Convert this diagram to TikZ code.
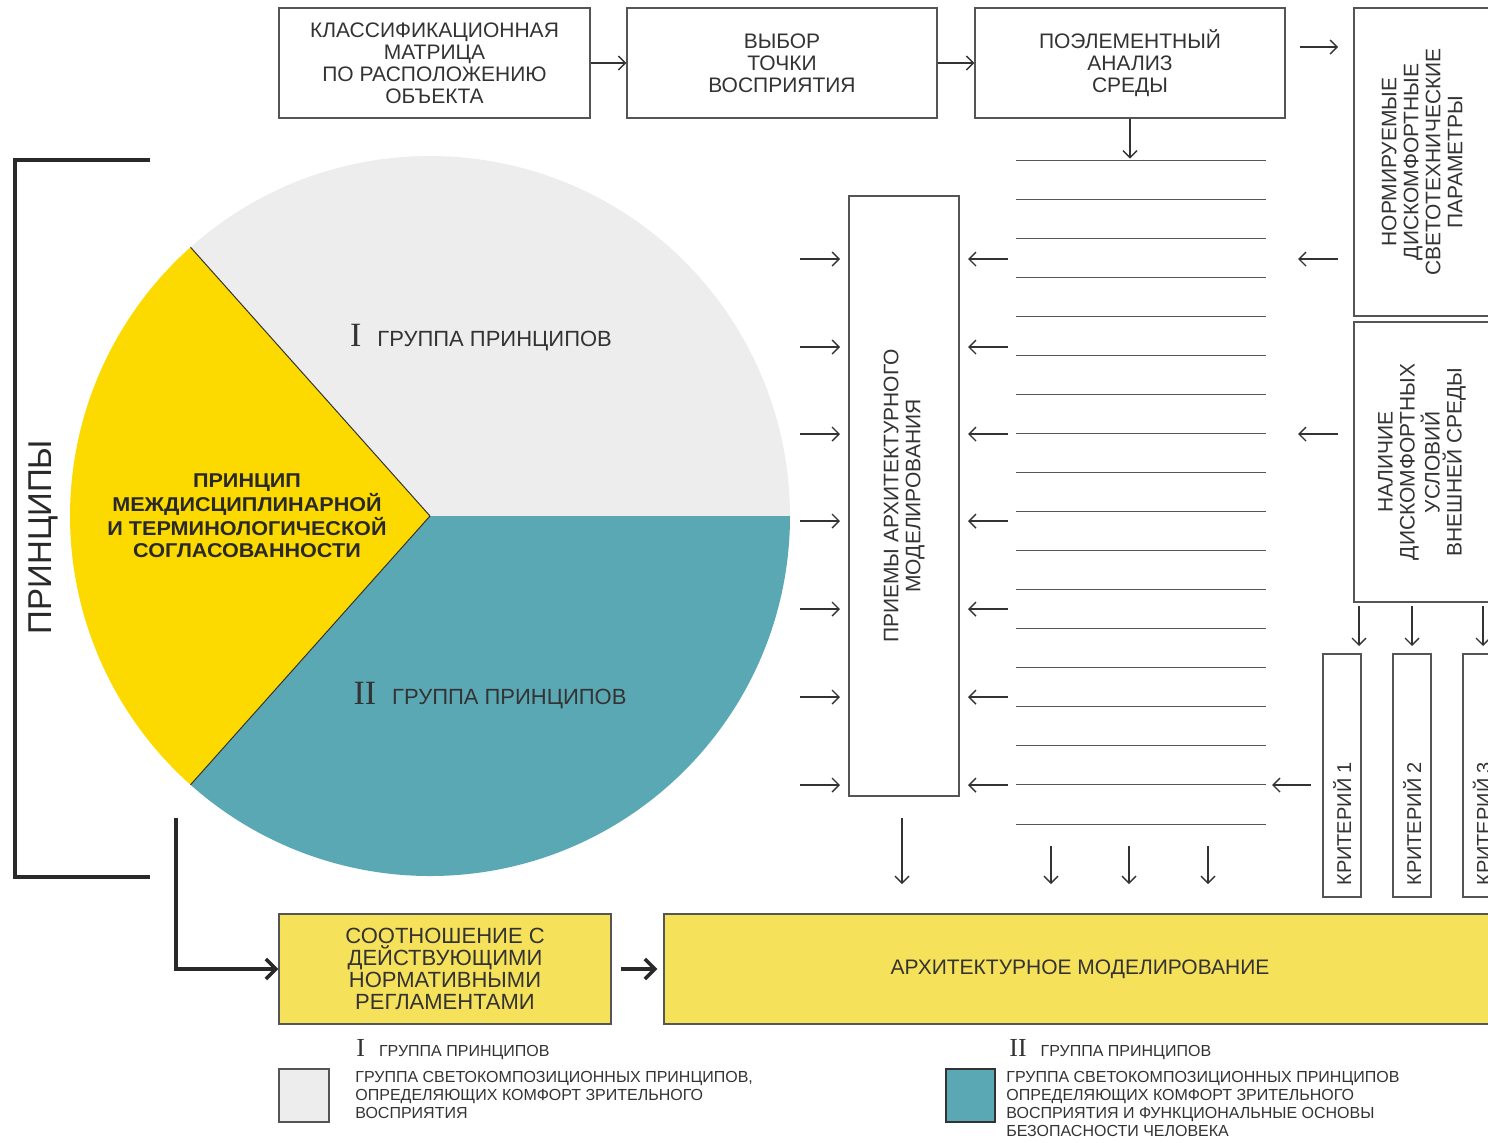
\documentclass[tikz,border=0pt]{standalone}
\usepackage{fontspec}
\setmainfont{Liberation Sans}
\newfontfamily\romfont{Liberation Serif}
\newfontfamily\widefont[FakeStretch=1.08]{Liberation Sans}
\usetikzlibrary{positioning, arrows.meta}
\definecolor{ink}{HTML}{333333}
\definecolor{frame}{HTML}{555555}
\definecolor{pigrey}{HTML}{EDEDED}
\definecolor{piyellow}{HTML}{FCDA00}
\definecolor{piteal}{HTML}{5BA8B5}
\definecolor{boxyellow}{HTML}{F6E15A}

\begin{document}
\begin{tikzpicture}[x=0.5pt, y=-0.5pt,
    box/.style={draw=frame, line width=0.6pt, text=ink, align=center, inner sep=0pt,
                font=\fontsize{10.5}{11}\selectfont},
    arr/.style={-{Straight Barb[length=3.5pt, width=7pt]}, line width=0.7pt, ink},
    bigarr/.style={-{Straight Barb[length=5pt, width=10pt]}, line width=1.8pt, ink!80!black},
    stripe/.style={line width=0.5pt, frame}]
  \useasboundingbox (0,0) rectangle (1488,1142);
  % ---- top row: classification -> viewpoint -> element analysis ----
  \node[box, minimum width=155.5pt, minimum height=55pt] (classmat) at (434.5,63)
        {КЛАССИФИКАЦИОННАЯ\\МАТРИЦА\\ПО РАСПОЛОЖЕНИЮ\\ОБЪЕКТА};
  \node[box, minimum width=155pt, minimum height=55pt] (viewpt) at (782,63)
        {ВЫБОР\\ТОЧКИ\\ВОСПРИЯТИЯ};
  \node[box, minimum width=155pt, minimum height=55pt] (envan) at (1130,63)
        {ПОЭЛЕМЕНТНЫЙ\\АНАЛИЗ\\СРЕДЫ};
  \draw[arr] (classmat) -- (viewpt);
  \draw[arr] (viewpt) -- (envan);
  \draw[arr] (envan.south) -- ++(0,40);
  % ---- right column: normed parameters, outer conditions ----
  \node[box, rotate=90, minimum width=154pt, minimum height=68pt] (normpar) at (1422,162)
        {НОРМИРУЕМЫЕ\\ДИСКОМФОРТНЫЕ\\СВЕТОТЕХНИЧЕСКИЕ\\ПАРАМЕТРЫ};
  \node[box, rotate=90, minimum width=140pt, minimum height=68pt] (outcond) at (1422,462)
        {НАЛИЧИЕ\\ДИСКОМФОРТНЫХ\\УСЛОВИЙ\\ВНЕШНЕЙ СРЕДЫ};
  \draw[arr] (1300,47) -- (1338,47);
  \foreach \y in {259,434}
    \draw[arr] (1338,\y) -- (1298,\y);
  \foreach \ax in {1359,1412,1483}
    \draw[arr] (\ax,606) -- (\ax,646);
  % ---- criteria ----
  \foreach \cx/\n in {1342/1, 1412/2, 1482/3} {
    \node[box, minimum width=19pt, minimum height=121.5pt] (crit\n) at (\cx,775.5) {};
    \node[rotate=90, anchor=west, inner sep=0pt, text=ink,
          font=\fontsize{10}{11}\selectfont] (crittxt\n) at (\cx,886) {КРИТЕРИЙ \n};
  }
  \draw[arr] (1311,785) -- (1272,785);
  % ---- element list (ruled lines) ----
  \foreach \k in {0,...,17}
    \draw[stripe] (1016,{160+39.06*\k}) -- (1266,{160+39.06*\k});
  \foreach \dx in {1051,1129,1208}
    \draw[arr] (\dx,846) -- (\dx,884);
  % ---- modelling methods ----
  \node[box, rotate=90, minimum width=300pt, minimum height=55pt] (priemy) at (904,496)
        {ПРИЕМЫ АРХИТЕКТУРНОГО\\МОДЕЛИРОВАНИЯ};
  \foreach \y in {259,347,434,521,609,697,785} {
    \draw[arr] (800,\y) -- (840,\y);
    \draw[arr] (1008,\y) -- (968,\y);
  }
  \draw[arr] (902,818) -- (902,884);
  % ---- pie of principles ----
  \coordinate (pc) at (430,516);
  \fill[pigrey] (pc) -- ++(228.3:360) arc[start angle=228.3, end angle=360, radius=360] -- cycle;
  \fill[piteal] (pc) -- ++(0:360) arc[start angle=0, end angle=131.7, radius=360] -- cycle;
  \fill[piyellow] (pc) -- ++(131.7:360) arc[start angle=131.7, end angle=228.3, radius=360] -- cycle;
  \draw[line width=0.5pt, ink] (pc) -- ++(131.7:360);
  \draw[line width=0.5pt, ink] (pc) -- ++(228.3:360);
  \node[text=ink, font=\fontsize{11}{12}\selectfont] (grpI) at (481,338)
        {{\romfont\fontsize{17}{17}\selectfont I}\hspace{8pt}ГРУППА ПРИНЦИПОВ};
  \node[text=ink, font=\fontsize{11}{12}\selectfont] (grpII) at (490,696)
        {{\romfont\fontsize{17}{17}\selectfont II}\hspace{8pt}ГРУППА ПРИНЦИПОВ};
  \node[text=ink!80!black, align=center, font=\widefont\bfseries\fontsize{10}{11}\selectfont]
        (interdisc) at (247,516)
        {ПРИНЦИП\\МЕЖДИСЦИПЛИНАРНОЙ\\И ТЕРМИНОЛОГИЧЕСКОЙ\\СОГЛАСОВАННОСТИ};
  % ---- bracket of principles ----
  \draw[line width=2pt, ink!80!black] (150,160) -- (15,160) -- (15,877) -- (150,877);
  \node[rotate=90, text=ink!80!black, font=\fontsize{16.5}{17}\selectfont] (princ) at (43,537)
        {ПРИНЦИПЫ};
  % ---- bottom row ----
  \node[box, fill=boxyellow, minimum width=166pt, minimum height=55pt,
        font=\fontsize{11}{11}\selectfont] (soot) at (445,969)
        {СООТНОШЕНИЕ С\\ДЕЙСТВУЮЩИМИ\\НОРМАТИВНЫМИ\\РЕГЛАМЕНТАМИ};
  \node[box, fill=boxyellow, minimum width=416pt, minimum height=55pt] (archmod) at (1080,969)
        {АРХИТЕКТУРНОЕ МОДЕЛИРОВАНИЕ};
  \coordinate (lstart) at (176,818);
  \draw[bigarr] (lstart) |- (soot.west);
  \draw[bigarr, shorten <=4.5pt, shorten >=3pt] (soot) -- (archmod);
  % ---- legend ----
  \node[box, fill=pigrey, minimum width=25pt, minimum height=26.5pt] (keyI) at (304,1095.5) {};
  \node[anchor=west, inner sep=0pt, text=ink, font=\fontsize{8}{9}\selectfont] (keyIhead)
        at (356,1050) {{\romfont\fontsize{13}{13}\selectfont I}\hspace{7pt}ГРУППА ПРИНЦИПОВ};
  \node[anchor=north west, inner sep=0pt, align=left, text=ink,
        font=\fontsize{8}{9}\selectfont] (keyItxt) at (355,1071)
        {ГРУППА СВЕТОКОМПОЗИЦИОННЫХ ПРИНЦИПОВ,\\ОПРЕДЕЛЯЮЩИХ КОМФОРТ ЗРИТЕЛЬНОГО\\ВОСПРИЯТИЯ};
  \node[box, draw=ink, fill=piteal, minimum width=24.5pt, minimum height=26.5pt] (keyII)
        at (970.5,1095.5) {};
  \node[anchor=west, inner sep=0pt, text=ink, font=\fontsize{8}{9}\selectfont] (keyIIhead)
        at (1009,1050) {{\romfont\fontsize{13}{13}\selectfont II}\hspace{7pt}ГРУППА ПРИНЦИПОВ};
  \node[anchor=north west, inner sep=0pt, align=left, text=ink,
        font=\fontsize{8}{9}\selectfont] (keyIItxt) at (1006,1071)
        {ГРУППА СВЕТОКОМПОЗИЦИОННЫХ ПРИНЦИПОВ\\ОПРЕДЕЛЯЮЩИХ КОМФОРТ ЗРИТЕЛЬНОГО\\
         ВОСПРИЯТИЯ И ФУНКЦИОНАЛЬНЫЕ ОСНОВЫ\\БЕЗОПАСНОСТИ ЧЕЛОВЕКА};
\end{tikzpicture}
\end{document}
